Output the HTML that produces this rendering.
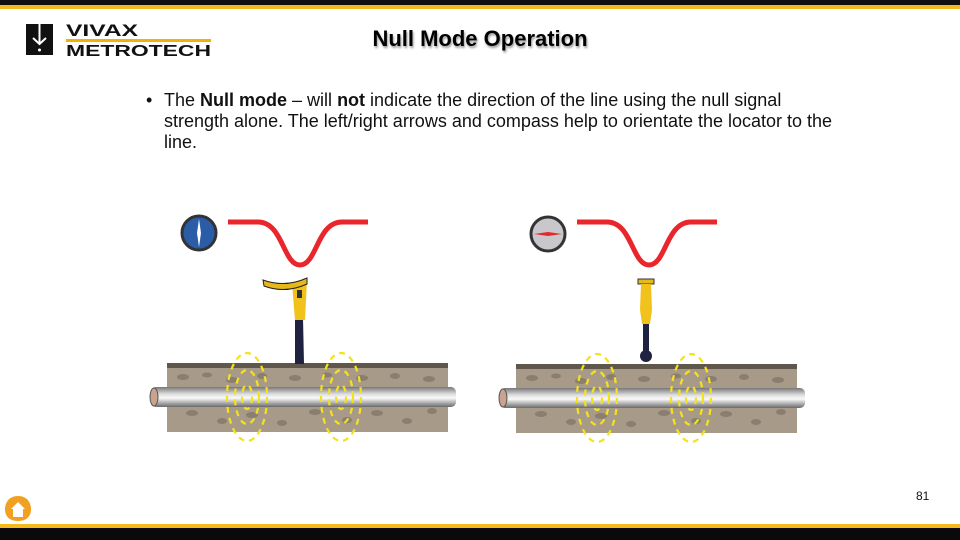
<!DOCTYPE html>
<html><head><meta charset="utf-8"><style>
body{margin:0;width:960px;height:540px;overflow:hidden;background:#fff;font-family:"Liberation Sans",Arial,sans-serif;position:relative}
.abs{position:absolute}
</style></head><body>
<div class="abs" style="left:0;top:0;width:960px;height:5px;background:#111"></div>
<div class="abs" style="left:0;top:5px;width:960px;height:4px;background:#f6b91c"></div>
<div class="abs" style="left:0;top:524px;width:960px;height:4px;background:#f6b91c"></div>
<div class="abs" style="left:0;top:528px;width:960px;height:12px;background:#0a0a0a"></div>

<!-- logo -->
<svg class="abs" style="left:0;top:0" width="220" height="70">
 <rect x="26" y="24" width="27" height="31" fill="#111"/>
 <line x1="39.5" y1="24" x2="39.5" y2="44" stroke="#fff" stroke-width="2"/>
 <polyline points="33,38 39.5,44 46,38" fill="none" stroke="#fff" stroke-width="2"/>
 <circle cx="39.5" cy="50" r="1.5" fill="#fff"/>
 <text x="66" y="36" font-family="Liberation Sans" font-weight="bold" font-size="17" textLength="72" lengthAdjust="spacingAndGlyphs" fill="#111">VIVAX</text>
 <rect x="66" y="39" width="145" height="3" fill="#f0b400"/>
 <text x="66" y="56" font-family="Liberation Sans" font-weight="bold" font-size="16" textLength="145" lengthAdjust="spacingAndGlyphs" fill="#111">METROTECH</text>
</svg>

<div class="abs" style="left:0;width:960px;top:26px;text-align:center;font-weight:bold;font-size:22px;color:#000;text-shadow:1px 2px 2px #999">Null Mode Operation</div>

<div class="abs" style="left:146px;top:90px;font-size:18px;line-height:21px;color:#111">•</div>
<div class="abs" style="left:164px;top:90px;width:690px;font-size:18px;line-height:21px;color:#111">The <b>Null mode</b> – will <b>not</b> indicate the direction of the line using the null signal<br>strength alone. The left/right arrows and compass help to orientate the locator to the<br>line.</div>

<svg class="abs" style="left:0;top:0" width="960" height="540">
<defs>
 <linearGradient id="pipe" x1="0" y1="0" x2="0" y2="1">
  <stop offset="0" stop-color="#777"/><stop offset="0.35" stop-color="#ddd"/><stop offset="0.55" stop-color="#fafafa"/><stop offset="1" stop-color="#6a6a6a"/>
 </linearGradient>
 <g id="ground">
  <rect x="0" y="0" width="281" height="69" fill="#a89a88"/>
  <rect x="0" y="0" width="281" height="5" fill="#5f564c"/>
  <g fill="#8a7e70">
   <ellipse cx="16" cy="14" rx="6" ry="3"/><ellipse cx="40" cy="12" rx="5" ry="2.5"/><ellipse cx="65" cy="17" rx="6" ry="3"/><ellipse cx="95" cy="13" rx="5" ry="3"/><ellipse cx="128" cy="15" rx="6" ry="3"/><ellipse cx="160" cy="12" rx="5" ry="2.5"/><ellipse cx="195" cy="15" rx="6" ry="3"/><ellipse cx="228" cy="13" rx="5" ry="3"/><ellipse cx="262" cy="16" rx="6" ry="3"/>
   <ellipse cx="25" cy="50" rx="6" ry="3"/><ellipse cx="55" cy="58" rx="5" ry="3"/><ellipse cx="85" cy="52" rx="6" ry="3"/><ellipse cx="115" cy="60" rx="5" ry="3"/><ellipse cx="148" cy="49" rx="6" ry="3"/><ellipse cx="180" cy="57" rx="5" ry="3"/><ellipse cx="210" cy="50" rx="6" ry="3"/><ellipse cx="240" cy="58" rx="5" ry="3"/><ellipse cx="265" cy="48" rx="5" ry="3"/>
  </g>
 </g>
 <g id="rings" fill="none" stroke="#f4e21a" stroke-width="2.2" stroke-dasharray="6 5">
  <ellipse cx="0" cy="0" rx="20" ry="44"/>
  <ellipse cx="0" cy="0" rx="12" ry="27"/>
  <ellipse cx="0" cy="0" rx="5" ry="12"/>
 </g>
 <g id="pipeg">
  <rect x="0" y="0" width="305" height="20" rx="5" fill="url(#pipe)"/>
  <ellipse cx="3" cy="10" rx="4" ry="9" fill="#c9a38e" stroke="#555"/>
 </g>
 <path id="curve" d="M0,0 H30 C55,0 55,43 72,43 C89,43 89,0 114,0 H140" fill="none" stroke="#e8262b" stroke-width="5"/>
</defs>

<use href="#ground" x="167" y="363"/>
<use href="#pipeg" x="151" y="387"/>
<use href="#rings" x="247" y="397"/>
<use href="#rings" x="341" y="397"/>
<circle cx="199" cy="233" r="17" fill="#2b5ca8" stroke="#333" stroke-width="3"/>
<path d="M199,219 L201,233 L199,247 L197,233 Z" fill="#fff"/>
<use href="#curve" x="228" y="222"/>
<path d="M295,318 L303,318 L304,364 L295,364 Z" fill="#1f2340"/>
<path d="M292,284 L307,281 L305,320 L295,320 Z" fill="#f2c21c"/>
<path d="M263,280 Q285,288 307,278 L307,284 Q285,294 264,286 Z" fill="#e7b81a" stroke="#222" stroke-width="1"/>
<rect x="297" y="290" width="5" height="8" fill="#333"/>

<use href="#ground" x="516" y="364"/>
<use href="#pipeg" x="500" y="388"/>
<use href="#rings" x="597" y="398"/>
<use href="#rings" x="691" y="398"/>
<circle cx="548" cy="234" r="17" fill="#c8c8cc" stroke="#333" stroke-width="3"/>
<path d="M534,234 L548,232 L562,234 L548,236 Z" fill="#e8262b"/>
<use href="#curve" x="577" y="222"/>
<rect x="643" y="323" width="6" height="32" fill="#1f2340"/>
<circle cx="646" cy="356" r="6" fill="#1f2340"/>
<rect x="638" y="279" width="16" height="5" fill="#e7b81a" stroke="#333" stroke-width="1"/>
<path d="M641,284 L651,284 L652,310 L650,324 L642,324 L640,310 Z" fill="#f2c21c"/>
</svg>

<svg class="abs" style="left:3px;top:494px" width="30" height="30">
 <path d="M15,2 C5,2 2,10 2,15 C2,22 6,27 15,27 C24,27 28,22 28,15 C28,10 25,2 15,2 Z" fill="#f2a020"/>
 <path d="M8,15 L15,8 L22,15 L20,15 L20,23 L10,23 L10,15 Z" fill="#fff"/>
</svg>
<div class="abs" style="left:916px;top:489px;font-size:12px;color:#111">81</div>
</body></html>
